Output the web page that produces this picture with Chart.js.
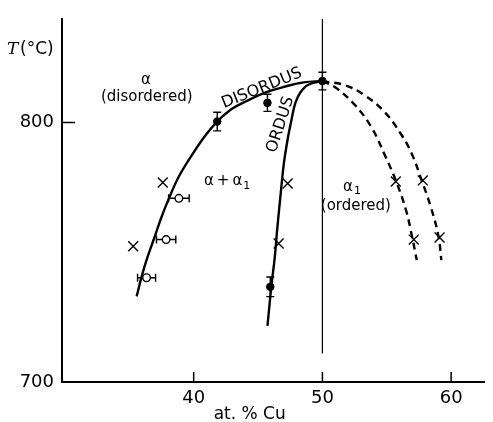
<!DOCTYPE html>
<html>
<head>
<meta charset="utf-8">
<script src="https://cdn.jsdelivr.net/npm/chart.js@4.4.0/dist/chart.umd.min.js"></script>
<style>
  html, body { margin: 0; padding: 0; background: #fff; }
  #wrap { width: 493px; height: 422px; }
</style>
</head>
<body>
<div id="wrap"><canvas id="chart"></canvas></div>
<script>
// ── Data (at.% Cu, T in °C) ─────────────────────────────────
const xTicks = [40, 50, 60];
const yTicks = [700, 800];

const disordusX = [35.57, 35.95, 36.41, 36.95, 37.48, 38.02, 38.85, 39.92, 40.92, 41.83, 42.98, 44.12, 45.65, 47.18, 48.55, 50];
const disordusT = [733.0, 740.5, 748.1, 755.7, 763.3, 770.1, 779.2, 787.9, 795.1, 800.4, 805.3, 808.3, 811.7, 814.0, 815.5, 816];

const ordusX = [50, 48.9, 48.3, 47.9, 47.6, 47.3, 47.0, 46.8, 46.5, 46.3, 46.03, 45.88, 45.73];
const ordusT = [816, 814.6, 811.7, 807.6, 801.1, 793.6, 784.1, 774.6, 759.5, 748.1, 736.7, 729.2, 721.6];

const innerX = [50, 50.99, 52.52, 53.82, 54.81, 55.73, 56.49, 56.95, 57.33];
const innerT = [816, 813.6, 806.8, 798.1, 787.9, 777.3, 766.3, 756.4, 747.0];

const outerX = [50, 51.76, 53.28, 54.81, 56.11, 56.95, 57.71, 58.40, 59.01, 59.24];
const outerT = [816, 814.4, 810.5, 804.2, 795.5, 787.9, 777.7, 767.8, 756.4, 747.0];

const crossX = [37.6, 35.3, 47.3, 46.6, 55.7, 57.8, 57.1, 59.1];
const crossT = [776.9, 752.3, 776.5, 753.4, 777.3, 777.7, 754.9, 755.7];

const openX = [38.85, 37.86, 36.34];
const openT = [770.8, 754.9, 740.2];
const openErrX = [0.8, 0.75, 0.7];

const dotX = [41.83, 45.73, 50, 45.95];
const dotT = [800.4, 807.6, 816, 736.7];
const dotErrT = [3.6, 3.3, 3.4, 3.8];

const refX = 50;
const refT = [711, 840];

// text placed at data positions
const notes = [
  { text: 'α', x: 36.3, y: 816.5 },
  { text: '(disordered)', x: 36.35, y: 809.8 },
  { text: 'α\u2009+\u2009α', sub: '1', x: 42.6, y: 777.3 },
  { text: 'α', sub: '1', x: 52.3, y: 775.2 },
  { text: '(ordered)', x: 52.6, y: 767.8 },
  { text: 'DISORDUS', x: 45.3, y: 813.2, rot: -22, size: 16 },
  { text: 'ORDUS', x: 46.75, y: 799.2, rot: -72, size: 16 },
];

const pts = (xs, ys) => xs.map((x, i) => ({ x, y: ys[i] }));
const FONT = '"DejaVu Sans", sans-serif';

// ── Plugin: error bars, inward ticks, text ─────────────────
const extras = {
  id: 'extras',
  beforeDatasetsDraw(chart) {
    const { ctx, scales: { x, y } } = chart;
    ctx.save();
    ctx.strokeStyle = '#000';
    ctx.lineWidth = 1.4;
    const cap = 4;
    openX.forEach((v, i) => {
      const py = y.getPixelForValue(openT[i]);
      const a = x.getPixelForValue(v - openErrX[i]), b = x.getPixelForValue(v + openErrX[i]);
      ctx.beginPath();
      ctx.moveTo(a, py); ctx.lineTo(b, py);
      ctx.moveTo(a, py - cap); ctx.lineTo(a, py + cap);
      ctx.moveTo(b, py - cap); ctx.lineTo(b, py + cap);
      ctx.stroke();
    });
    dotX.forEach((v, i) => {
      const px = x.getPixelForValue(v);
      const a = y.getPixelForValue(dotT[i] - dotErrT[i]), b = y.getPixelForValue(dotT[i] + dotErrT[i]);
      ctx.beginPath();
      ctx.moveTo(px, a); ctx.lineTo(px, b);
      ctx.moveTo(px - cap, a); ctx.lineTo(px + cap, a);
      ctx.moveTo(px - cap, b); ctx.lineTo(px + cap, b);
      ctx.stroke();
    });
    ctx.restore();
  },
  afterDatasetsDraw(chart) {
    const { ctx, chartArea, scales: { x, y } } = chart;
    ctx.save();
    ctx.strokeStyle = '#000';
    ctx.fillStyle = '#000';
    ctx.lineWidth = 1.5;
    // inward tick marks
    ctx.beginPath();
    xTicks.forEach(v => {
      const px = x.getPixelForValue(v);
      ctx.moveTo(px, chartArea.bottom); ctx.lineTo(px, chartArea.bottom - 10);
    });
    yTicks.filter(v => v > 700).forEach(v => {
      const py = y.getPixelForValue(v);
      ctx.moveTo(chartArea.left, py); ctx.lineTo(chartArea.left + 13, py);
    });
    ctx.stroke();

    ctx.textBaseline = 'middle';
    notes.forEach(n => {
      const size = n.size || 15;
      ctx.save();
      ctx.translate(x.getPixelForValue(n.x), y.getPixelForValue(n.y));
      if (n.rot) ctx.rotate(n.rot * Math.PI / 180);
      ctx.font = size + 'px ' + FONT;
      const w = ctx.measureText(n.text).width;
      let sw = 0;
      if (n.sub) { ctx.font = Math.round(size * 0.7) + 'px ' + FONT; sw = ctx.measureText(n.sub).width + 1; }
      ctx.textAlign = 'left';
      ctx.font = size + 'px ' + FONT;
      ctx.fillText(n.text, -(w + sw) / 2, 0);
      if (n.sub) {
        ctx.font = Math.round(size * 0.7) + 'px ' + FONT;
        ctx.fillText(n.sub, -(w + sw) / 2 + w + 1, size * 0.3);
      }
      ctx.restore();
    });

    // axis titles
    ctx.textAlign = 'center';
    ctx.font = '17px ' + FONT;
    ctx.fillText('at. % Cu', x.getPixelForValue(44.35), chartArea.bottom + 33);
    ctx.textAlign = 'left';
    ctx.font = 'italic 17px "DejaVu Serif", serif';
    ctx.fillText('T', chartArea.left - 55, chartArea.top + 31);
    ctx.font = '17px ' + FONT;
    ctx.fillText('(°C)', chartArea.left - 42, chartArea.top + 31);
    ctx.restore();
  }
};

const line = (data, extra) => Object.assign({
  data, showLine: true, borderColor: '#000', borderWidth: 2.4,
  pointRadius: 0, tension: 0.4, fill: false
}, extra);

new Chart(document.getElementById('chart'), {
  type: 'scatter',
  data: {
    datasets: [
      line(pts(disordusX, disordusT)),
      line(pts(ordusX, ordusT)),
      line(pts(innerX, innerT), { borderDash: [7, 5] }),
      line(pts(outerX, outerT), { borderDash: [7, 5] }),
      line(refT.map(t => ({ x: refX, y: t })), { borderWidth: 1.2, tension: 0 }),
      { data: pts(crossX, crossT), pointStyle: 'crossRot', pointRadius: 7, borderColor: '#000', borderWidth: 1.4 },
      { data: pts(openX, openT), pointStyle: 'circle', pointRadius: 3.8, borderColor: '#000', backgroundColor: '#fff', borderWidth: 1.4 },
      { data: pts(dotX, dotT), pointStyle: 'circle', pointRadius: 3.8, borderColor: '#000', backgroundColor: '#000', borderWidth: 1 },
    ]
  },
  options: {
    responsive: true, maintainAspectRatio: false, animation: false,
    layout: { padding: { top: 13, right: 1 } },
    plugins: { legend: { display: false }, tooltip: { enabled: false } },
    scales: {
      x: {
        type: 'linear', min: 29.77, max: 62.6,
        grid: { display: false, drawTicks: false },
        border: { display: true, width: 2, color: '#000' },
        afterBuildTicks: s => { s.ticks = xTicks.map(v => ({ value: v })); },
        afterFit: s => { s.height = 40; },
        ticks: { color: '#000', padding: 6, font: { family: FONT, size: 18 } }
      },
      y: {
        type: 'linear', min: 700, max: 840,
        grid: { display: false, drawTicks: false },
        border: { display: true, width: 2, color: '#000' },
        afterBuildTicks: s => { s.ticks = yTicks.map(v => ({ value: v })); },
        afterFit: s => { s.width = 62; },
        ticks: { color: '#000', padding: 8, font: { family: FONT, size: 18 } }
      }
    }
  },
  plugins: [extras]
});
</script>
</body>
</html>
